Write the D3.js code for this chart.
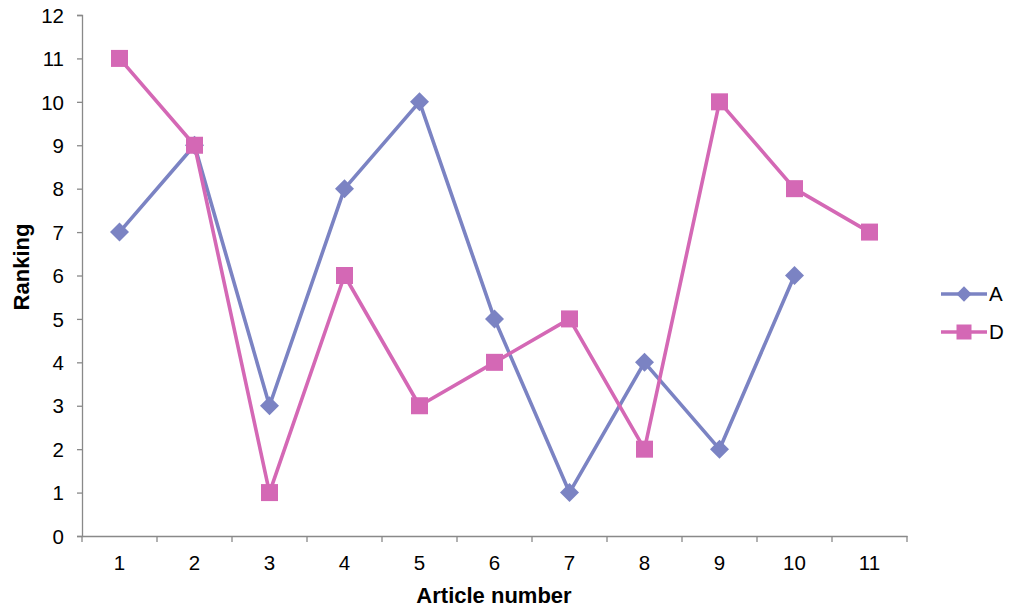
<!DOCTYPE html>
<html>
<head>
<meta charset="utf-8">
<script src="https://cdn.jsdelivr.net/npm/d3@7"></script>
<style>
  html, body { margin: 0; padding: 0; background: #fff; }
  svg { display: block; font-family: "Liberation Sans", Arial, sans-serif; }
</style>
</head>
<body>
<svg id="chart" width="1012" height="611"></svg>
<script>
// Article numbers along the x axis
const articles = ["1", "2", "3", "4", "5", "6", "7", "8", "9", "10", "11"];
// Ranking given to each article by reviewer A (no ranking for article 11)
const rankA = [7, 9, 3, 8, 10, 5, 1, 4, 2, 6];
// Ranking given to each article by reviewer D
const rankD = [11, 9, 1, 6, 3, 4, 5, 2, 10, 8, 7];
const yTicks = [0, 1, 2, 3, 4, 5, 6, 7, 8, 9, 10, 11, 12];

const colorA = "#7B83C3";
const colorD = "#D468B5";
const axisColor = "#898989";
const tickFont = "20.5px";
const titleFont = "22px";

const svg = d3.select("#chart");
const plotLeft = 82, plotRight = 907, plotTop = 15, plotBottom = 536;

const x = d3.scaleBand().domain(articles).range([plotLeft, plotRight]);
const y = d3.scaleLinear().domain([0, 12]).range([plotBottom, plotTop]);

// Y axis
const yAxis = svg.append("g")
  .attr("transform", `translate(${plotLeft},0)`)
  .call(d3.axisLeft(y).tickValues(yTicks).tickSize(5).tickPadding(13).tickFormat(d3.format("d")));
// X axis
const xAxis = svg.append("g")
  .attr("transform", `translate(0,${plotBottom})`)
  .call(d3.axisBottom(x).tickSize(0).tickPadding(19));

[yAxis, xAxis].forEach(g => {
  g.select(".domain").attr("stroke", axisColor).attr("stroke-width", 1.3);
  g.selectAll(".tick line").attr("stroke", axisColor).attr("stroke-width", 1.3);
  g.selectAll("text").attr("fill", "#000").style("font-size", tickFont)
    .style("font-family", "'Liberation Sans', Arial, sans-serif");
});
yAxis.selectAll("text").attr("dy", "0.35em");

// Category boundary ticks below the x axis
const boundaries = articles.map(a => x(a)).concat([x.range()[1]]);
svg.append("g").selectAll("line").data(boundaries).join("line")
  .attr("x1", d => d).attr("x2", d => d)
  .attr("y1", plotBottom).attr("y2", plotBottom + 6)
  .attr("stroke", axisColor).attr("stroke-width", 1.3);

// Axis titles
svg.append("text")
  .attr("x", 494).attr("y", 603)
  .attr("text-anchor", "middle")
  .style("font-size", titleFont).style("font-weight", "bold")
  .text("Article number");
svg.append("text")
  .attr("transform", `translate(29,267) rotate(-90)`)
  .attr("text-anchor", "middle")
  .style("font-size", titleFont).style("font-weight", "bold")
  .text("Ranking");

const cx = (i) => x(articles[i]) + x.bandwidth() / 2;
const line = d3.line().x((d, i) => cx(i)).y(d => y(d));

// Series A: line with diamond markers
svg.append("path").datum(rankA)
  .attr("d", line).attr("fill", "none")
  .attr("stroke", colorA).attr("stroke-width", 3.6).attr("stroke-linejoin", "round");
const diamond = d3.symbol().type(d3.symbolDiamond2).size(230);
svg.append("g").selectAll("path").data(rankA).join("path")
  .attr("d", diamond)
  .attr("transform", (d, i) => `translate(${cx(i)},${y(d)})`)
  .attr("fill", colorA);

// Series D: line with square markers
svg.append("path").datum(rankD)
  .attr("d", line).attr("fill", "none")
  .attr("stroke", colorD).attr("stroke-width", 3.6).attr("stroke-linejoin", "round");
const sq = 17;
svg.append("g").selectAll("rect").data(rankD).join("rect")
  .attr("x", (d, i) => cx(i) - sq / 2)
  .attr("y", d => y(d) - sq / 2)
  .attr("width", sq).attr("height", sq)
  .attr("fill", colorD);

// Legend
const legend = [
  { name: "A", color: colorA, marker: "diamond", y: 294 },
  { name: "D", color: colorD, marker: "square", y: 332 }
];
const lg = svg.append("g");
legend.forEach(s => {
  lg.append("line").attr("x1", 941).attr("x2", 987).attr("y1", s.y).attr("y2", s.y)
    .attr("stroke", s.color).attr("stroke-width", 3.6);
  if (s.marker === "diamond") {
    lg.append("path").attr("d", d3.symbol().type(d3.symbolDiamond2).size(150))
      .attr("transform", `translate(964,${s.y})`).attr("fill", s.color);
  } else {
    lg.append("rect").attr("x", 964 - 7.5).attr("y", s.y - 7.5)
      .attr("width", 15).attr("height", 15).attr("fill", s.color);
  }
  lg.append("text").attr("x", 989).attr("y", s.y).attr("dy", "0.36em")
    .style("font-size", tickFont).text(s.name);
});
</script>
</body>
</html>
